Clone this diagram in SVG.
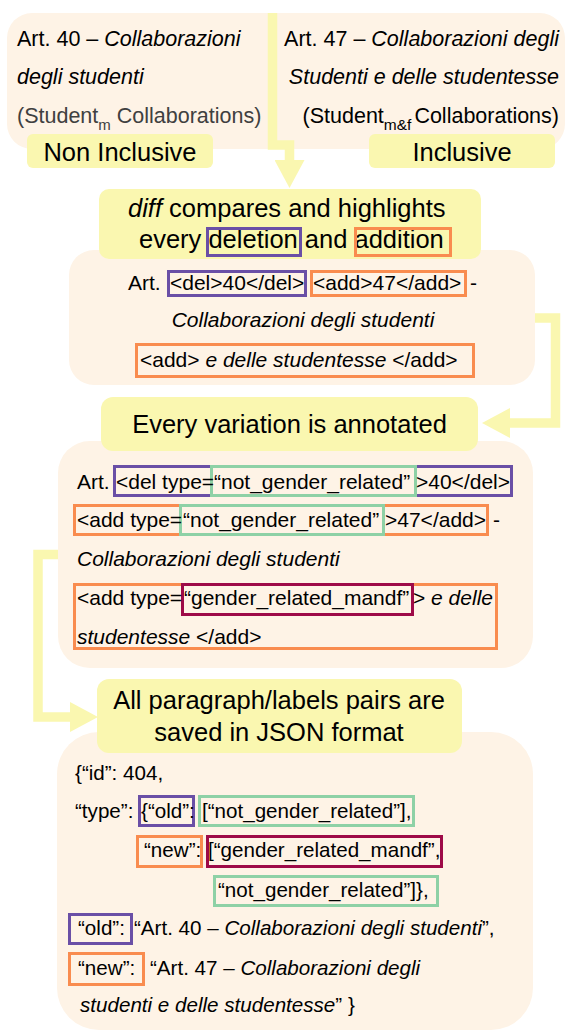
<svg xmlns="http://www.w3.org/2000/svg" width="567" height="1032" viewBox="0 0 567 1032">
<style>
text{font-family:"Liberation Sans",Arial,sans-serif;fill:#000}
.top{font-size:21.5px}
.body{font-size:21px}
.json{font-size:20.6px}
.title{font-size:25.5px;text-anchor:middle}
.it{font-style:italic}
.panel{fill:#FEF3E6}
.tag{fill:#FAF7B0}
.hl{fill:none;stroke-width:3}
.del{stroke:#6A4FA6}
.add{stroke:#F98C4F}
.ngr{stroke:#8ED1A6}
.gr{stroke:#9E0A48}
.flow{fill:none;stroke:#FAF7B0;stroke-width:9.5;stroke-linejoin:miter}
</style>
<defs>
<marker id="head" markerUnits="userSpaceOnUse" markerWidth="28" markerHeight="30" viewBox="0 0 28 30" refX="0" refY="15" orient="auto"><path d="M0,0 L28,15 L0,30 z" fill="#FAF7B0"/></marker>
</defs>

<!-- original article (left) -->
<g id="art40">
<path class="panel" d="M272,13 V149 H32 A25,25 0 0 1 7,124 V38 A25,25 0 0 1 32,13 Z"/>
<text class="top" x="17" y="46">Art. 40 – <tspan class="it">Collaborazioni</tspan></text>
<text class="top it" x="17" y="84">degli studenti</text>
<text class="top" x="17" y="123" style="fill:#404040">(Student<tspan font-size="15" dy="7">m</tspan><tspan dy="-7"> Collaborations)</tspan></text>
</g>
<g id="label-noninclusive">
<rect class="tag" x="27" y="134" width="186" height="34" rx="6"/>
<text class="title" x="120" y="161">Non Inclusive</text>
</g>

<!-- revised article (right) -->
<g id="art47">
<path class="panel" d="M272,13 H540 A25,25 0 0 1 565,38 V124 A25,25 0 0 1 540,149 H272 Z"/>
<text class="top" x="559" y="46" text-anchor="end">Art. 47 – <tspan class="it">Collaborazioni degli</tspan></text>
<text class="top it" x="559" y="84" text-anchor="end">Studenti e delle studentesse</text>
<text class="top" x="559" y="123" text-anchor="end">(Student<tspan font-size="15.5" dy="7">m&amp;f</tspan><tspan dy="-7" dx="3">Collaborations)</tspan></text>
</g>
<g id="label-inclusive">
<rect class="tag" x="369" y="134" width="186" height="34" rx="6"/>
<text class="title" x="462" y="161">Inclusive</text>
</g>

<!-- step 1: diff output -->
<g id="diff-output">
<rect class="panel" x="69" y="250" width="466" height="135" rx="25"/>
<text class="body" x="128" y="290">Art.</text>
<rect class="hl del" x="168.5" y="271.5" width="137" height="24"/>
<text class="body" x="170" y="290">&lt;del&gt;40&lt;/del&gt;</text>
<rect class="hl add" x="311.5" y="271.5" width="154" height="24"/>
<text class="body" x="313" y="290">&lt;add&gt;47&lt;/add&gt;</text>
<text class="body" x="470" y="290">-</text>
<text class="body it" x="303" y="327" text-anchor="middle">Collaborazioni degli studenti</text>
<rect class="hl add" x="136.5" y="344.5" width="337" height="32"/>
<text class="body" x="140" y="367">&lt;add&gt; <tspan class="it">e delle studentesse</tspan> &lt;/add&gt;</text>
</g>
<g id="diff-step">
<rect class="tag" x="99" y="189" width="382" height="70" rx="10"/>
<text class="title" x="128" y="217" style="text-anchor:start"><tspan class="it">diff</tspan> compares and highlights</text>
<text class="title" x="139" y="248" style="text-anchor:start">every deletion and addition</text>
<rect class="hl del" x="207.5" y="228.5" width="93" height="27"/>
<rect class="hl add" x="355.5" y="228.5" width="95" height="27"/>
</g>

<!-- step 2: annotated variations -->
<g id="annotated-output">
<rect class="panel" x="58" y="441" width="475" height="227" rx="32"/>
<text class="body" x="77" y="489">Art.</text>
<rect class="hl del" x="114.5" y="466.5" width="397" height="29"/>
<rect class="hl ngr" x="211.5" y="466.5" width="204" height="29"/>
<text class="body" x="116" y="489">&lt;del type=</text>
<text class="body" x="214" y="489">“not_gender_related”</text>
<text class="body" x="416" y="489">&gt;40&lt;/del&gt;</text>
<rect class="hl add" x="74.5" y="505.5" width="413" height="29"/>
<rect class="hl ngr" x="180.5" y="505.5" width="203" height="29"/>
<text class="body" x="77" y="527">&lt;add type=</text>
<text class="body" x="183" y="527">“not_gender_related”</text>
<text class="body" x="385" y="527">&gt;47&lt;/add&gt;</text>
<text class="body" x="493" y="527">-</text>
<text class="body it" x="77" y="566">Collaborazioni degli studenti</text>
<rect class="hl add" x="74.5" y="584.5" width="422" height="64"/>
<rect class="hl gr" x="182.5" y="584.5" width="230" height="30"/>
<text class="body" x="77" y="605">&lt;add type=</text>
<text class="body" x="184" y="605">“gender_related_mandf”</text>
<text class="body" x="413" y="605">&gt; <tspan class="it">e delle</tspan></text>
<text class="body" x="77" y="644"><tspan class="it">studentesse</tspan> &lt;/add&gt;</text>
</g>
<g id="annotate-step">
<rect class="tag" x="101" y="397" width="377" height="54" rx="12"/>
<text class="title" x="289.5" y="433">Every variation is annotated</text>
</g>

<!-- step 3: JSON record -->
<g id="json-output">
<rect class="panel" x="57" y="732" width="476" height="298" rx="42"/>
<text class="json" x="75" y="780">{“id”: 404,</text>
<text class="json" x="75" y="818">“type”:</text>
<rect class="hl del" x="139.5" y="796.5" width="54" height="29"/>
<text class="json" x="141" y="818">{“old”:</text>
<rect class="hl ngr" x="199.5" y="796.5" width="214" height="29"/>
<text class="json" x="202" y="818">[“not_gender_related”],</text>
<rect class="hl add" x="137.5" y="836.5" width="64" height="30"/>
<text class="json" x="144" y="857">“new”:</text>
<rect class="hl gr" x="207.5" y="836.5" width="234" height="30"/>
<text class="json" x="208" y="857">[“gender_related_mandf”,</text>
<rect class="hl ngr" x="214.5" y="876.5" width="223" height="29"/>
<text class="json" x="218" y="897">“not_gender_related”]},</text>
<rect class="hl del" x="69.5" y="914.5" width="62" height="29"/>
<text class="json" x="78" y="935">“old”:</text>
<text class="json" x="134" y="935">“Art. 40 – <tspan class="it">Collaborazioni degli studenti</tspan>”,</text>
<rect class="hl add" x="69.5" y="953.5" width="74" height="31"/>
<text class="json" x="78" y="975">“new”:</text>
<text class="json" x="150" y="975">“Art. 47 – <tspan class="it">Collaborazioni degli</tspan></text>
<text class="json" x="80" y="1012"><tspan class="it">studenti e delle studentesse</tspan>” }</text>
</g>
<g id="json-step">
<rect class="tag" x="97" y="679" width="365" height="74" rx="12"/>
<text class="title" x="279" y="709">All paragraph/labels pairs are</text>
<text class="title" x="279" y="741">saved in JSON format</text>
</g>

<!-- flow arrows -->
<g id="connectors">
<path class="flow" d="M272.5,13 V145 H289.5 V160" marker-end="url(#head)"/>
<path class="flow" d="M535,318 H555.5 V423 H510" marker-end="url(#head)"/>
<path class="flow" d="M58,554.5 H38 V717 H70" marker-end="url(#head)"/>
</g>
</svg>
